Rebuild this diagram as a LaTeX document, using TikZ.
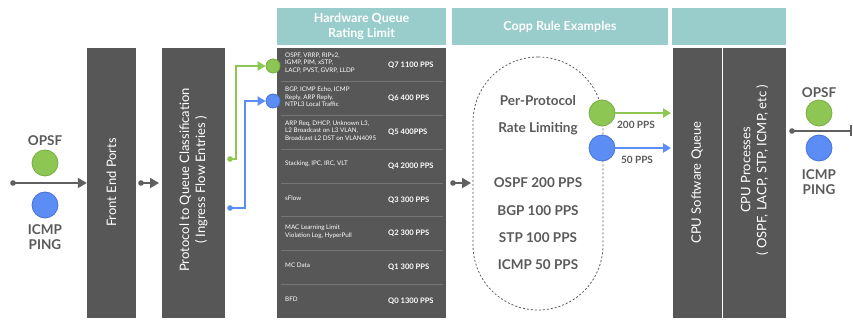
\documentclass[tikz,border=0pt]{standalone}
\usepackage{fontspec}
\setmainfont{Lato}
\usetikzlibrary{arrows.meta}
\definecolor{hdrteal}{HTML}{98CDCC}
\definecolor{panelgray}{HTML}{575757}
\definecolor{sepgray}{HTML}{767676}
\definecolor{txtgray}{HTML}{5A5A5A}
\definecolor{arrgray}{HTML}{606060}
\definecolor{mygreen}{HTML}{8DC652}
\definecolor{mygreendk}{HTML}{77AE42}
\definecolor{myblue}{HTML}{5B8DF5}
\definecolor{mybluedk}{HTML}{4773D6}
\begin{document}
\begin{tikzpicture}[x=1pt,y=-1pt,
  hdr/.style={fill=hdrteal, draw=none, inner sep=0pt, minimum height=37pt, text=white, font=\fontsize{12.5}{15}\selectfont\bfseries, align=center},
  panel/.style={fill=panelgray, draw=none, inner sep=0pt, minimum height=270pt},
  vtext/.style={rotate=90, text=white, font=\fontsize{13}{16}\selectfont, align=center, inner sep=0pt},
  sep/.style={draw=sepgray, line width=0.6pt},
  rowl/.style={anchor=west, text=white, font=\fontsize{6.3}{7.5}\selectfont, align=left, inner sep=0pt},
  rowr/.style={anchor=west, text=white, font=\fontsize{7.6}{9}\selectfont\bfseries, inner sep=0pt},
  gtext/.style={text=txtgray, font=\fontsize{13.5}{15}\selectfont\bfseries, inner sep=0pt},
  stext/.style={text=txtgray, font=\fontsize{10}{12}\selectfont\bfseries, inner sep=0pt},
  gball/.style={circle, fill=mygreen, draw=mygreendk, line width=0.8pt, inner sep=0pt, minimum size=#1},
  bball/.style={circle, fill=myblue, draw=mybluedk, line width=0.8pt, inner sep=0pt, minimum size=#1},
  grayarr/.style={draw=arrgray, line width=2pt, -{Triangle[length=9pt,width=10pt]}},
  greenarr/.style={draw=mygreen, line width=2pt, -{Triangle[length=8pt,width=9pt]}},
  bluearr/.style={draw=myblue, line width=2pt, -{Triangle[length=8pt,width=9pt]}},
  dotg/.style={fill=arrgray},
]
\useasboundingbox (0,0) rectangle (853,320);
\fill[white] (0,0) rectangle (853,320);

% headers
\node[hdr, minimum width=169pt] (h1) at (361.5,26.5) {Hardware Queue\\Rating Limit};
\node[hdr, minimum width=216pt] (h2) at (560,26.5) {Copp Rule Examples};
\node[hdr, minimum width=114pt] (h3) at (729,26.5) {};

% panels
\node[panel, minimum width=49pt] (fep) at (111.5,183) {};
\node[vtext] (fept) at (111.5,182.5) {Front End Ports};
\node[panel, minimum width=63pt] (proto) at (193.5,183) {};
\node[vtext] (protot) at (193.5,180) {Protocol to Queue Classification\\( Ingress Flow Entries )};
\node[panel, minimum width=169pt] (hwq) at (361.5,183) {};
\node[panel, minimum width=49pt] (csq) at (697,183) {};
\node[vtext] (csqt) at (697,182.5) {CPU Software Queue};
\node[panel, minimum width=63pt] (cpp) at (754.5,183) {};
\node[vtext] (cppt) at (754.5,170) {CPU Processes\\( OSPF, LACP, STP, ICMP, etc )};

% hardware queue rows
\foreach \k in {1,...,7} {
  \draw[sep] (281,48+\k*33.75) -- (443,48+\k*33.75);
}
\foreach \i/\l/\r in {
  0/{OSPF, VRRP, RIPv2,\\IGMP, PIM, xSTP,\\LACP, PVST, GVRP, LLDP}/{Q7 1100 PPS},
  1/{BGP, ICMP Echo, ICMP\\Reply, ARP Reply,\\NTPL3 Local Traffic}/{Q6 400 PPS},
  2/{ARP Req, DHCP, Unknown L3,\\L2 Broadcast on L3 VLAN,\\Broadcast L2 DST on VLAN4095}/{Q5 400PPS},
  3/{Stacking, IPC, IRC, VLT}/{Q4 2000 PPS},
  4/{sFlow}/{Q3 300 PPS},
  5/{MAC Learning Limit\\Violation Log, HyperPull}/{Q2 300 PPS},
  6/{MC Data}/{Q1 300 PPS},
  7/{BFD}/{Q0 1300 PPS}} {
  \node[rowl] (rowl\i) at (285,63+\i*33.75) {\l};
  \node[rowr] (rowr\i) at (388,65+\i*33.75) {\r};
}

% left input
\node[gtext] (opsfL) at (45,141) {OPSF};
\node[gball=26pt] (gL) at (45,163) {};
\node[bball=26pt] (bL) at (45,205) {};
\node[gtext, align=center] (icmpL) at (45,237) {ICMP\\PING};
\coordinate (inL) at (13,183);
\fill[dotg] (inL) circle (2.8pt);
\draw[grayarr] (inL) -- (fep.west);

% small arrows between panels
\coordinate (s1a) at (141,183);
\coordinate (s1b) at (159,183);
\fill[dotg] (s1a) circle (2.8pt);
\draw[grayarr] (s1a) -- (s1b);
\coordinate (s2a) at (453,183);
\coordinate (s2b) at (471,183);
\fill[dotg] (s2a) circle (2.8pt);
\draw[grayarr] (s2a) -- (s2b);

% green / blue into hardware queue
\node[gball=14pt] (hwg) at (273,66) {};
\node[bball=14pt] (hwb) at (273,101) {};
\coordinate (gdot) at (230,159);
\coordinate (gturn) at (236,66);
\coordinate (bdot) at (230,208);
\coordinate (bturn) at (245,101);
\fill[mygreen] (gdot) circle (2.8pt);
\fill[myblue] (bdot) circle (2.8pt);
\draw[greenarr] (gdot) -| (gturn) -- (hwg.west);
\draw[bluearr] (bdot) -| (bturn) -- (hwb.west);

% copp rule
\node[draw=txtgray, dash pattern=on 2pt off 2pt, line width=0.8pt, rounded corners=65pt, minimum width=130pt, minimum height=253pt, inner sep=0pt] (copp) at (538,183.5) {};
\node[gtext] (pp1) at (538,101) {Per-Protocol};
\node[gtext] (pp2) at (538,129) {Rate Limiting};
\node[gtext] (r1) at (538,183) {OSPF 200 PPS};
\node[gtext] (r2) at (538,211) {BGP 100 PPS};
\node[gtext] (r3) at (538,238) {STP 100 PPS};
\node[gtext] (r4) at (538,265) {ICMP 50 PPS};
\node[gball=26pt] (cg) at (602,113) {};
\node[bball=26pt] (cb) at (602,148) {};
\coordinate (cgend) at (671,113);
\coordinate (cbend) at (671,148);
\draw[greenarr] (cg.east) -- (cgend);
\draw[bluearr] (cb.east) -- (cbend);
\node[stext] (l200) at (636,125) {200 PPS};
\node[stext] (l50) at (637,160) {50 PPS};

% right output
\node[gtext] (opsfR) at (819,93) {OPSF};
\node[gball=26pt] (gR) at (819,113) {};
\node[bball=26pt] (bR) at (819,148) {};
\node[gtext, align=center] (icmpR) at (819,182) {ICMP\\PING};
\coordinate (outA) at (792,131);
\coordinate (outB) at (852,131);
\fill[dotg] (outA) circle (2.8pt);
\draw[draw=arrgray, line width=2pt, -{Bar[width=11pt, line width=2pt]}] (outA) -- (outB);
\end{tikzpicture}
\end{document}
